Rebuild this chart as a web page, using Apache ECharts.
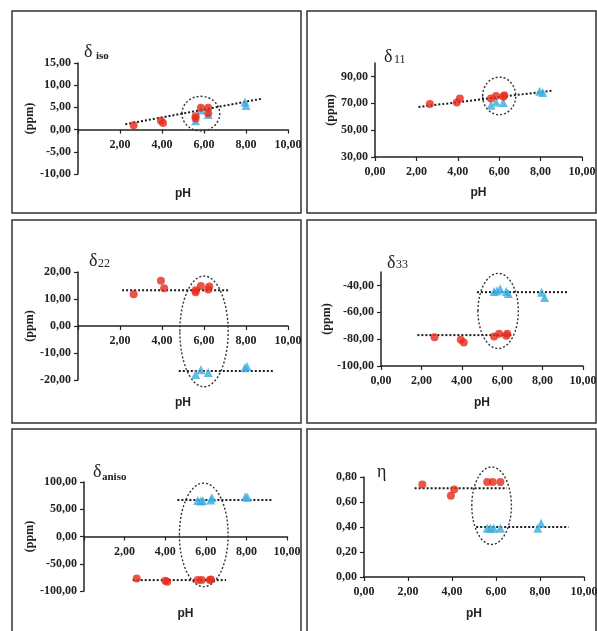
<!DOCTYPE html>
<html><head><meta charset="utf-8">
<script src="https://cdn.jsdelivr.net/npm/echarts@6/dist/echarts.min.js"></script>
<style>html,body{margin:0;padding:0;background:#fff}#c{width:597px;height:631px}</style>
</head><body><div id="c"></div>
<script>
// ---------- data ----------
const xTicks = [0, 2, 4, 6, 8, 10];

// δiso
const isoRedPH = [2.65, 3.95, 4.05, 5.6, 5.6, 5.85, 6.2, 6.2];
const isoRed   = [1.0, 2.0, 1.5, 3.0, 2.5, 4.9, 4.9, 3.7];
const isoBluePH = [5.6, 5.85, 6.2, 7.95, 8.0];
const isoBlue   = [2.0, 4.4, 3.4, 6.2, 5.4];
const isoTrendPH = [2.25, 8.8];
const isoTrend   = [1.2, 7.0];
const isoEllipse = [5.85, 3.6, 0.9, 3.9];
const isoYTicks = [-10, -5, 0, 5, 10, 15];

// δ11
const d11RedPH = [2.65, 3.95, 4.1, 5.6, 5.85, 6.2, 6.25];
const d11Red   = [69.5, 70.5, 73.5, 73.5, 75.5, 74.8, 76];
const d11BluePH = [5.6, 5.85, 6.2, 7.95, 8.1];
const d11Blue   = [68.5, 71, 70.5, 79, 78];
const d11TrendPH = [2.1, 8.6];
const d11Trend   = [67.2, 79.5];
const d11Ellipse = [6.0, 75.5, 0.8, 14];
const d11YTicks = [30, 50, 70, 90];

// δ22
const d22RedPH = [2.65, 3.95, 4.1, 5.6, 5.6, 5.85, 6.2, 6.25];
const d22Red   = [11.8, 16.8, 14, 12.5, 13.2, 14.8, 13.5, 14.6];
const d22BluePH = [5.6, 5.85, 6.2, 7.95, 8.05];
const d22Blue   = [-18, -16.2, -17.2, -15.5, -15.0];
const d22RedTrendPH = [2.1, 7.2];
const d22RedTrend   = [13.2, 13.2];
const d22BlueTrendPH = [4.8, 9.3];
const d22BlueTrend   = [-16.7, -16.7];
const d22Ellipse = [6.0, -2, 1.15, 20.5];
const d22YTicks = [-20, -10, 0, 10, 20];

// δ33
const d33RedPH = [2.65, 3.95, 4.1, 5.6, 5.85, 6.2, 6.25];
const d33Red   = [-78.5, -80.5, -82.5, -78, -76, -77.5, -76];
const d33BluePH = [5.6, 5.75, 5.9, 6.2, 6.3, 7.95, 8.1];
const d33Blue   = [-44.5, -44, -42.5, -44.5, -46, -45, -49];
const d33RedTrendPH = [1.8, 6.5];
const d33RedTrend   = [-77, -77];
const d33BlueTrendPH = [4.75, 9.3];
const d33BlueTrend   = [-45, -45];
const d33Ellipse = [5.8, -59, 1.0, 28];
const d33YTicks = [-100, -80, -60, -40];

// δaniso
const anRedPH = [2.6, 4.0, 4.1, 5.6, 5.8, 6.2, 6.25];
const anRed   = [-77, -81, -83, -80, -80, -80, -79];
const anBluePH = [5.6, 5.75, 5.85, 6.25, 6.3, 7.95, 8.05];
const anBlue   = [66, 65, 66, 67, 71, 73, 72];
const anRedTrendPH = [2.4, 7.0];
const anRedTrend   = [-80, -80];
const anBlueTrendPH = [4.6, 9.3];
const anBlueTrend   = [67, 67];
const anEllipse = [5.9, 3, 1.2, 95];
const anYTicks = [-100, -50, 0, 50, 100];

// η
const etaRedPH = [2.65, 3.95, 4.1, 5.6, 5.85, 6.2];
const etaRed   = [0.74, 0.65, 0.70, 0.76, 0.76, 0.76];
const etaBluePH = [5.6, 5.75, 5.9, 6.2, 7.9, 8.05];
const etaBlue   = [0.39, 0.39, 0.39, 0.39, 0.39, 0.43];
const etaRedTrendPH = [2.3, 6.5];
const etaRedTrend   = [0.71, 0.71];
const etaBlueTrendPH = [5.1, 9.3];
const etaBlueTrend   = [0.40, 0.40];
const etaEllipse = [5.8, 0.57, 0.9, 0.31];
const etaYTicks = [0, 0.2, 0.4, 0.6, 0.8];

// ---------- layout ----------
const RED = '#e62a1c', BLUE = '#38ace0', INK = '#222';
const zip = (a, b) => a.map((v, i) => [v, b[i]]);
const fmt = v => Number(v).toFixed(2).replace('.', ',');
const LABEL_FONT = { fontFamily: 'Liberation Serif', fontWeight: 'bold', fontSize: 12, color: INK };

const panels = [
  { grid: {left: 78, top: 63, width: 210, height: 111}, yMin: -10, yMax: 15, yTicks: isoYTicks, onZero: true, nameGapX: 58, nameGapY: 40, ppm: true,
    red: zip(isoRedPH, isoRed), blue: zip(isoBluePH, isoBlue), trends: [zip(isoTrendPH, isoTrend)], ellipse: isoEllipse },
  { grid: {left: 375, top: 63, width: 207, height: 94}, yMin: 30, yMax: 100, yTicks: d11YTicks, onZero: false, nameGapX: 30, nameGapY: 36, ppm: true,
    red: zip(d11RedPH, d11Red), blue: zip(d11BluePH, d11Blue), trends: [zip(d11TrendPH, d11Trend)], ellipse: d11Ellipse },
  { grid: {left: 78, top: 272, width: 210, height: 108}, yMin: -20, yMax: 20, yTicks: d22YTicks, onZero: true, nameGapX: 71, nameGapY: 40, ppm: true,
    red: zip(d22RedPH, d22Red), blue: zip(d22BluePH, d22Blue), trends: [zip(d22RedTrendPH, d22RedTrend), zip(d22BlueTrendPH, d22BlueTrend)], ellipse: d22Ellipse },
  { grid: {left: 381, top: 272, width: 202, height: 94}, yMin: -100, yMax: -30, yTicks: d33YTicks, onZero: false, nameGapX: 31, nameGapY: 47, ppm: true,
    red: zip(d33RedPH, d33Red), blue: zip(d33BluePH, d33Blue), trends: [zip(d33RedTrendPH, d33RedTrend), zip(d33BlueTrendPH, d33BlueTrend)], ellipse: d33Ellipse },
  { grid: {left: 84, top: 482, width: 203, height: 109}, yMin: -100, yMax: 100, yTicks: anYTicks, onZero: true, nameGapX: 71, nameGapY: 45, ppm: true,
    red: zip(anRedPH, anRed), blue: zip(anBluePH, anBlue), trends: [zip(anRedTrendPH, anRedTrend), zip(anBlueTrendPH, anBlueTrend)], ellipse: anEllipse },
  { grid: {left: 364, top: 477, width: 220, height: 100}, yMin: 0, yMax: 0.8, yTicks: etaYTicks, onZero: false, nameGapX: 31, nameGapY: 40, ppm: false,
    red: zip(etaRedPH, etaRed), blue: zip(etaBluePH, etaBlue), trends: [zip(etaRedTrendPH, etaRedTrend), zip(etaBlueTrendPH, etaBlueTrend)], ellipse: etaEllipse }
];

const grids = [], xAxes = [], yAxes = [], series = [];
panels.forEach((p, i) => {
  grids.push(Object.assign({ outerBoundsMode: 'none', containLabel: false }, p.grid));
  // x axis crosses the y axis at 0 when the y range spans 0: shift it up from the grid bottom by the scale position of 0
  const zeroShift = p.onZero ? -p.grid.height * (0 - p.yMin) / (p.yMax - p.yMin) : 0;
  xAxes.push({
    type: 'value', gridIndex: i, min: 0, max: 10, interval: 2, position: 'bottom', offset: zeroShift,
    axisLine: { onZero: false, lineStyle: { color: INK, width: 1.5 } },
    axisTick: { lineStyle: { color: INK, width: 1.2 }, length: 4, customValues: xTicks },
    axisLabel: Object.assign({ formatter: fmt, margin: 9, customValues: p.onZero ? xTicks.slice(1) : xTicks }, LABEL_FONT),
    splitLine: { show: false },
    name: 'pH', nameLocation: 'middle', nameGap: p.nameGapX,
    nameTextStyle: { fontFamily: 'Liberation Sans', fontWeight: 'bold', fontSize: 12, color: INK }
  });
  yAxes.push({
    type: 'value', gridIndex: i, min: p.yMin, max: p.yMax,
    axisLine: { show: true, onZero: false, lineStyle: { color: INK, width: 1.5 } },
    axisTick: { show: true, lineStyle: { color: INK, width: 1.2 }, length: 4, customValues: p.yTicks },
    axisLabel: Object.assign({ formatter: fmt, margin: 7, customValues: p.yTicks }, LABEL_FONT),
    splitLine: { show: false },
    name: p.ppm ? '(ppm)' : '', nameLocation: 'middle', nameGap: p.nameGapY, nameRotate: 90,
    nameTextStyle: { fontFamily: 'Liberation Serif', fontWeight: 'bold', fontSize: 12, color: INK }
  });
  p.trends.forEach(t => series.push({
    type: 'line', xAxisIndex: i, yAxisIndex: i, data: t, symbol: 'none', silent: true,
    lineStyle: { color: '#1a1a1a', width: 2, type: [2, 2] }, z: 3
  }));
  series.push({
    type: 'custom', xAxisIndex: i, yAxisIndex: i, data: [p.ellipse], silent: true, z: 2,
    encode: { x: 0, y: 1 },
    renderItem: (params, api) => {
      const c = api.coord([api.value(0), api.value(1)]);
      const s = api.size([api.value(2), api.value(3)], [api.value(0), api.value(1)]);
      return { type: 'ellipse', shape: { cx: c[0], cy: c[1], rx: s[0], ry: s[1] },
        style: { fill: 'none', stroke: '#333', lineWidth: 1.4, lineDash: [2, 2] } };
    }
  });
  series.push({ type: 'scatter', xAxisIndex: i, yAxisIndex: i, data: p.blue, symbol: 'triangle', symbolSize: 9,
    itemStyle: { color: BLUE }, z: 4 });
  series.push({ type: 'scatter', xAxisIndex: i, yAxisIndex: i, data: p.red, symbol: 'circle', symbolSize: 8,
    itemStyle: { color: RED }, z: 5 });
});

// panel frames
const frames = [
  [12, 11, 289, 202], [307, 11, 289, 202],
  [12, 220, 289, 203], [307, 220, 289, 203],
  [12, 429, 289, 215], [307, 429, 289, 215]
].map(r => ({ type: 'rect', shape: { x: r[0], y: r[1], width: r[2], height: r[3] },
  style: { fill: 'none', stroke: '#333', lineWidth: 1.5 }, silent: true }));

const serif = 'Liberation Serif';
const titles = [
  { t: 'δ', x: 84, y: 52, s: 18 }, { t: 'iso', x: 96, y: 56, s: 11, b: true },
  { t: 'δ', x: 384, y: 57, s: 18 }, { t: '11', x: 394, y: 60, s: 12 },
  { t: 'δ', x: 89, y: 261, s: 18 }, { t: '22', x: 98, y: 264, s: 12 },
  { t: 'δ', x: 387, y: 263, s: 18 }, { t: '33', x: 396, y: 265, s: 12 },
  { t: 'δ', x: 93, y: 472, s: 18 }, { t: 'aniso', x: 102, y: 477, s: 11, b: true },
  { t: 'η', x: 377, y: 472, s: 18 }
].map(o => ({ type: 'text', x: o.x, y: o.y, silent: true,
  style: { text: o.t, fill: INK, font: (o.b ? 'bold ' : '') + o.s + 'px ' + serif, textVerticalAlign: 'middle', verticalAlign: 'middle' } }));

const chart = echarts.init(document.getElementById('c'), null, { renderer: 'canvas' });
chart.setOption({
  animation: false,
  backgroundColor: '#fff',
  grid: grids, xAxis: xAxes, yAxis: yAxes, series: series,
  graphic: frames.concat(titles)
});
</script></body></html>
